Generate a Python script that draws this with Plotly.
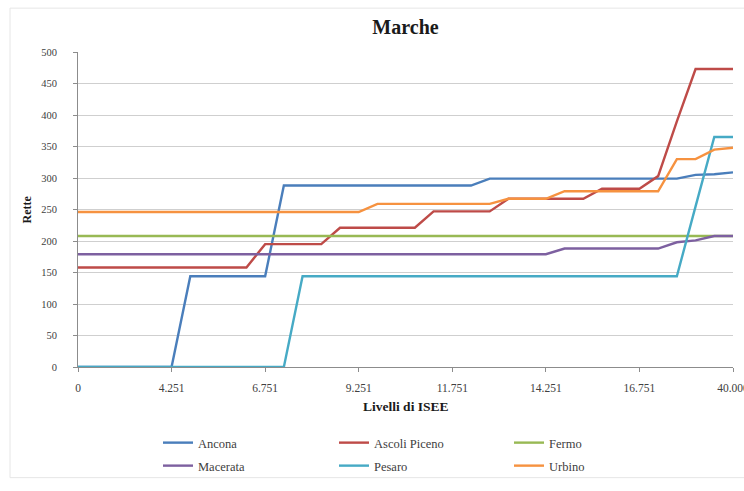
import plotly.graph_objects as go

# ISEE income brackets (category axis)
livelli = [
    "0", "2.251", "2.751", "3.251", "3.751", "4.251", "4.751", "5.251", "5.751",
    "6.251", "6.751", "7.251", "7.751", "8.251", "8.751", "9.251", "9.751",
    "10.251", "10.751", "11.251", "11.751", "12.251", "12.751", "13.251",
    "13.751", "14.251", "14.751", "15.251", "15.751", "16.251", "16.751",
    "17.251", "17.751", "18.251", "18.751", "40.000",
]

# Monthly fees (rette) per province
ancona = [0, 0, 0, 0, 0, 0, 144, 144, 144, 144, 144, 288, 288, 288, 288, 288,
          288, 288, 288, 288, 288, 288, 299, 299, 299, 299, 299, 299, 299, 299,
          299, 299, 299, 305, 306, 309]
ascoli_piceno = [158, 158, 158, 158, 158, 158, 158, 158, 158, 158, 195, 195,
                 195, 195, 221, 221, 221, 221, 221, 247, 247, 247, 247, 267,
                 267, 267, 267, 267, 283, 283, 283, 303, 390, 473, 473, 473]
fermo = [208] * 36
macerata = [179, 179, 179, 179, 179, 179, 179, 179, 179, 179, 179, 179, 179,
            179, 179, 179, 179, 179, 179, 179, 179, 179, 179, 179, 179, 179,
            188, 188, 188, 188, 188, 188, 198, 201, 208, 208]
pesaro = [0, 0, 0, 0, 0, 0, 0, 0, 0, 0, 0, 0, 144, 144, 144, 144, 144, 144,
          144, 144, 144, 144, 144, 144, 144, 144, 144, 144, 144, 144, 144, 144,
          144, 255, 365, 365]
urbino = [246, 246, 246, 246, 246, 246, 246, 246, 246, 246, 246, 246, 246, 246,
          246, 246, 259, 259, 259, 259, 259, 259, 259, 267, 267, 267, 279, 279,
          279, 279, 279, 279, 330, 330, 345, 348]

series = [
    ("Ancona", ancona, "#4A7EBB"),
    ("Ascoli Piceno", ascoli_piceno, "#BE4B48"),
    ("Fermo", fermo, "#98B954"),
    ("Macerata", macerata, "#7D60A0"),
    ("Pesaro", pesaro, "#46AAC5"),
    ("Urbino", urbino, "#F69240"),
]

y_ticks = list(range(0, 501, 50))
x_ticks = livelli[::5]

FONT = "Liberation Serif, DejaVu Serif, serif"

W, H = 744, 491
L, R, T, B = 78, 11, 52, 123
pw, ph = W - L - R, H - T - B


def px_x(px):
    return (px - L) / pw


def px_y(py):
    return (H - B - py) / ph


# legend grid: 3 columns x 2 rows below the plot
col_px = [158, 334, 509]
row_px = [443, 466]

fig = go.Figure()
legends = {}
for i, (name, vals, color) in enumerate(series):
    key = "legend" if i == 0 else f"legend{i + 1}"
    fig.add_trace(go.Scatter(
        x=livelli, y=vals, name=name, mode="lines",
        line=dict(color=color, width=2.4),
        legend=key,
    ))
    legends[key] = dict(
        x=px_x(col_px[i % 3]), y=px_y(row_px[i // 3]),
        xanchor="left", yanchor="middle",
        orientation="h", itemwidth=30,
        font=dict(family=FONT, size=12.5, color="#404040"),
        bgcolor="rgba(0,0,0,0)", borderwidth=0,
    )

fig.update_layout(
    width=W, height=H,
    margin=dict(l=L, r=R, t=T, b=B),
    paper_bgcolor="white", plot_bgcolor="white",
    font=dict(family=FONT, color="#404040"),
    title=dict(
        text="<b>Marche</b>", x=0.5, xref="paper", xanchor="center",
        y=1 - 27 / H, yref="container", yanchor="middle",
        font=dict(family=FONT, size=20, color="#1a1a1a"),
    ),
    showlegend=True,
    xaxis=dict(
        type="category", range=[0, len(livelli) - 1],
        tickmode="array", tickvals=x_ticks, ticktext=x_ticks,
        showgrid=False, zeroline=False,
        showline=True, linecolor="#8c8c8c", linewidth=1,
        ticks="outside", ticklen=4, tickcolor="#8c8c8c",
        tickfont=dict(family=FONT, size=11.5, color="#404040"),
        ticklabelstandoff=6, automargin=False,
    ),
    yaxis=dict(
        range=[0, 500], tickmode="array", tickvals=y_ticks,
        showgrid=True, gridcolor="#cfcfcf", gridwidth=1, zeroline=False,
        showline=True, linecolor="#8c8c8c", linewidth=1,
        ticks="outside", ticklen=4, tickcolor="#8c8c8c",
        tickfont=dict(family=FONT, size=10.5, color="#404040"),
        ticklabelstandoff=14, automargin=False,
    ),
    annotations=[
        dict(text="<b>Livelli di ISEE</b>", xref="paper", yref="paper",
             x=0.5, y=px_y(408), xanchor="center", yanchor="middle",
             showarrow=False, font=dict(family=FONT, size=13.5, color="#1a1a1a")),
        dict(text="<b>Rette</b>", xref="paper", yref="paper",
             x=px_x(26), y=0.5, xanchor="center", yanchor="middle",
             textangle=-90, showarrow=False,
             font=dict(family=FONT, size=12, color="#1a1a1a")),
    ],
    shapes=[
        dict(type="rect", xref="paper", yref="paper",
             x0=px_x(10), x1=px_x(760), y0=px_y(479), y1=px_y(8),
             line=dict(color="#e6e6e6", width=1), layer="below"),
    ],
    **legends,
)

fig.write_html("out.html")
